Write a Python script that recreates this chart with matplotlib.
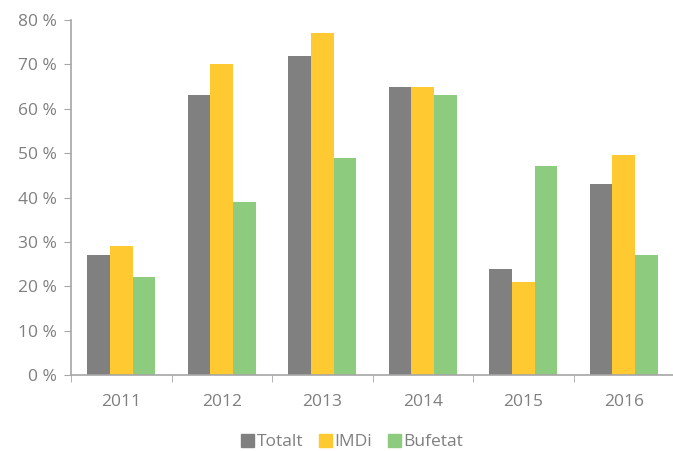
import numpy as np
import matplotlib.pyplot as plt
from matplotlib.patches import Patch
from matplotlib.ticker import FixedLocator

plt.rcParams['font.family'] = ['Open Sans', 'DejaVu Sans']

years = ["2011", "2012", "2013", "2014", "2015", "2016"]
totalt = [27, 63, 72, 65, 24, 43]
imdi = [29, 70, 77, 65, 21, 49.5]
bufetat = [22, 39, 49, 63, 47, 27]

series = [("Totalt", totalt, "#808080"),
          ("IMDi", imdi, "#FFC931"),
          ("Bufetat", bufetat, "#8DCC7E")]

text_col = "#7F7F7F"
axis_col = "#A6A6A6"

fig = plt.figure(figsize=(6.73, 4.51), dpi=100)
ax = fig.add_axes([71 / 673, 1 - 375 / 451, 603 / 673, 355 / 451])

x = np.arange(len(years))
w = 0.224
for i, (name, vals, col) in enumerate(series):
    ax.bar(x + (i - 1) * w, vals, width=w, color=col, label=name)

ax.set_xlim(-0.5, len(years) - 0.5)
ax.set_ylim(0, 80)
ax.set_yticks(np.arange(0, 81, 10))
ax.set_yticklabels([f"{v} %" for v in range(0, 81, 10)])
ax.set_xticks(x)
ax.set_xticklabels(years)
ax.xaxis.set_minor_locator(FixedLocator(np.arange(-0.5, len(years), 1)))

ax.tick_params(axis='y', direction='out', length=5, color=axis_col, labelcolor=text_col,
               labelsize=12.5, pad=5)
ax.tick_params(axis='x', which='major', length=0, labelcolor=text_col, labelsize=12.5, pad=14)
ax.tick_params(axis='x', which='minor', direction='out', length=5, color=axis_col)

for s in ['top', 'right']:
    ax.spines[s].set_visible(False)
for s in ['left', 'bottom']:
    ax.spines[s].set_color(axis_col)
    ax.spines[s].set_linewidth(1.2)

handles = [Patch(color=col, label=name) for name, _, col in series]
fig.legend(handles=handles, loc='center', bbox_to_anchor=(352 / 673, 1 - 442 / 451), ncol=3,
           frameon=False, fontsize=12.5, labelcolor=text_col, handlelength=0.75,
           handleheight=0.75, handletextpad=0.15, columnspacing=0.9)

fig.savefig("out.png", dpi=100)
